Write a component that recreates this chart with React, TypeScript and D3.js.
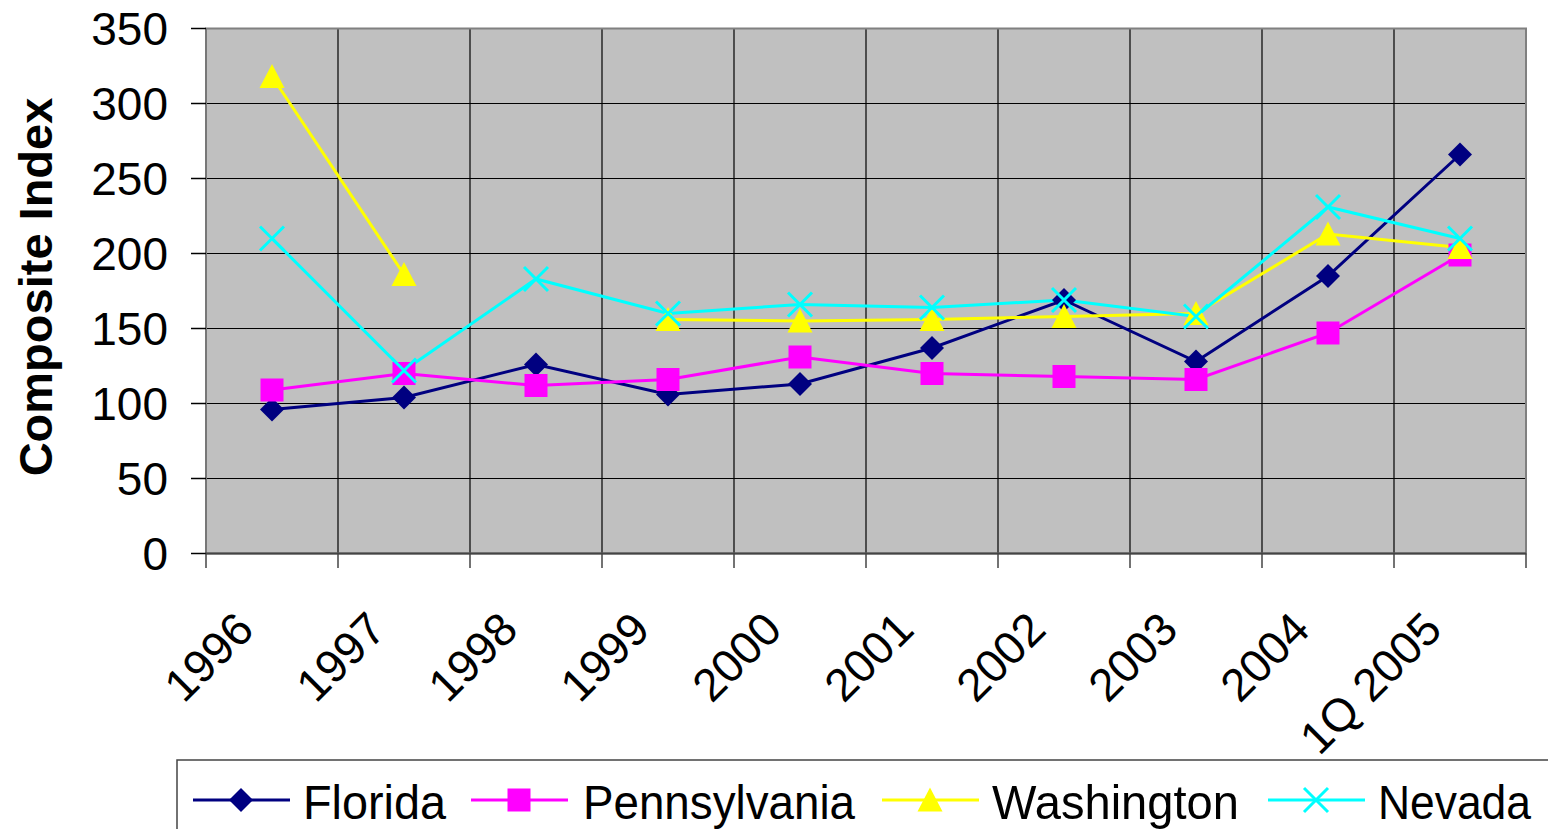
import React from "react";
import * as d3 from "d3";

const categories = ["1996", "1997", "1998", "1999", "2000", "2001", "2002", "2003", "2004", "1Q 2005"];
const florida = [96, 104, 126, 106, 113, 137, 169, 128, 185, 266];
const pennsylvania = [109, 120, 112, 116, 131, 120, 118, 116, 147, 199];
const washington = [318, 186, null, 156, 155, 156, 158, 160, 213, 204];
const nevada = [210, 122, 183, 160, 166, 164, 169, 158, 231, 210];
const yTicks = [0, 50, 100, 150, 200, 250, 300, 350];

const series = [
  { name: "Florida", values: florida, color: "#000080", marker: "diamond" },
  { name: "Pennsylvania", values: pennsylvania, color: "#FF00FF", marker: "square" },
  { name: "Washington", values: washington, color: "#FFFF00", marker: "triangle" },
  { name: "Nevada", values: nevada, color: "#00FFFF", marker: "x" },
];

const W = 1548;
const H = 829;
const left = 206;
const right = 1526;
const top = 28.5;
const bottom = 553.5;
const FONT = "'Liberation Sans', Arial, sans-serif";

const Marker = ({ type, x, y, color }: { type: string; x: number; y: number; color: string }) => {
  if (type === "diamond") {
    const r = 12;
    return <path d={`M${x},${y - r}L${x + r},${y}L${x},${y + r}L${x - r},${y}Z`} fill={color} />;
  }
  if (type === "square") {
    const s = 11.5;
    return <rect x={x - s} y={y - s} width={s * 2} height={s * 2} fill={color} />;
  }
  if (type === "triangle") {
    const r = 12.5;
    return <path d={`M${x},${y - r}L${x + r},${y + r - 1}L${x - r},${y + r - 1}Z`} fill={color} />;
  }
  const r = 12;
  return (
    <path
      d={`M${x - r},${y - r}L${x + r},${y + r}M${x - r},${y + r}L${x + r},${y - r}`}
      stroke={color}
      strokeWidth={3}
      fill="none"
    />
  );
};

export default function App() {
  const x = d3.scaleBand<string>().domain(categories).range([left, right]).padding(0);
  const y = d3.scaleLinear().domain([0, 350]).range([bottom, top]);
  const cx = (c: string) => (x(c) as number) + x.bandwidth() / 2;

  const line = d3
    .line<number | null>()
    .defined((d) => d !== null)
    .x((_, i) => cx(categories[i]))
    .y((d) => y(d as number));

  // legend layout: line start, text start, text width
  const legendItems = [
    { lx: 193, tx: 303, tw: 143 },
    { lx: 471, tx: 583, tw: 272 },
    { lx: 882, tx: 992, tw: 247 },
    { lx: 1268, tx: 1378, tw: 153 },
  ];

  return (
    <svg
      width={W}
      height={H}
      style={{ position: "absolute", left: 0, top: 0, background: "#fff" }}
      fontFamily={FONT}
    >
      {/* plot background */}
      <rect x={left} y={top} width={right - left} height={bottom - top} fill="#C0C0C0" />

      {/* gridlines */}
      {yTicks.map((t) => (
        <line key={"h" + t} x1={left} x2={right} y1={y(t)} y2={y(t)} stroke="#000" strokeWidth={1.2} />
      ))}
      {categories.map((c, i) =>
        i === 0 ? null : (
          <line key={"v" + c} x1={x(c)} x2={x(c)} y1={top} y2={bottom} stroke="#000" strokeWidth={1.2} />
        )
      )}

      {/* plot border */}
      <rect x={left} y={top} width={right - left} height={bottom - top} fill="none" stroke="#808080" strokeWidth={2} />
      <line x1={left} x2={left} y1={top} y2={bottom} stroke="#777" strokeWidth={2} />
      <line x1={left} x2={right} y1={bottom} y2={bottom} stroke="#444" strokeWidth={2} />

      {/* y ticks and labels */}
      {yTicks.map((t) => (
        <g key={"yt" + t}>
          <line x1={191} x2={left} y1={y(t)} y2={y(t)} stroke="#000" strokeWidth={1.5} />
          <text x={168} y={y(t)} dy="0.36em" textAnchor="end" fontSize={46} fill="#000">
            {t}
          </text>
        </g>
      ))}

      {/* x ticks and labels */}
      {[...categories.map((c) => x(c) as number), right].map((px, i) => (
        <line key={"xt" + i} x1={px} x2={px} y1={bottom} y2={568} stroke="#444" strokeWidth={1.5} />
      ))}
      {categories.map((c) => (
        <text
          key={"xl" + c}
          transform={`translate(${cx(c) - 16},${632}) rotate(-45)`}
          textAnchor="end"
          fontSize={46}
          fill="#000"
        >
          {c}
        </text>
      ))}

      {/* y axis title */}
      <text
        transform={`translate(52,287) rotate(-90)`}
        textAnchor="middle"
        fontSize={47}
        fontWeight="bold"
        fill="#000"
      >
        Composite Index
      </text>

      {/* lines */}
      {series.map((s) => (
        <path key={"l" + s.name} d={line(s.values) || ""} fill="none" stroke={s.color} strokeWidth={3} />
      ))}

      {/* markers */}
      {series.map((s) =>
        s.values.map((v, i) =>
          v === null ? null : (
            <Marker key={s.name + i} type={s.marker} x={cx(categories[i])} y={y(v)} color={s.color} />
          )
        )
      )}

      {/* legend */}
      <rect x={177} y={760} width={1400} height={100} fill="#fff" stroke="#444" strokeWidth={1.5} />
      {series.map((s, i) => {
        const it = legendItems[i];
        return (
          <g key={"lg" + s.name}>
            <line x1={it.lx} x2={it.lx + 97} y1={800} y2={800} stroke={s.color} strokeWidth={3} />
            <Marker type={s.marker} x={it.lx + 48} y={800} color={s.color} />
            <text
              x={it.tx}
              y={819}
              fontSize={49}
              fill="#000"
              textLength={it.tw}
              lengthAdjust="spacingAndGlyphs"
            >
              {s.name}
            </text>
          </g>
        );
      })}
    </svg>
  );
}
